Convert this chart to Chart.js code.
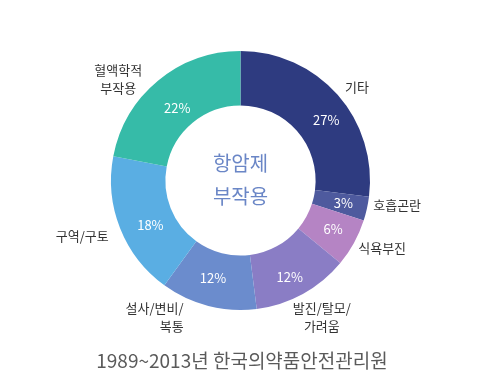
<!DOCTYPE html>
<html>
<head>
<meta charset="utf-8">
<script src="https://cdn.jsdelivr.net/npm/chart.js@4/dist/chart.umd.min.js"></script>
<style>
  html, body { margin: 0; padding: 0; background: #fff; }
  #wrap { width: 487px; height: 391px; position: relative; }
</style>
</head>
<body>
<div id="wrap"><canvas id="chart"></canvas></div>
<script>
var categories = ['기타', '호흡곤란', '식욕부진', '발진/탈모/\n가려움', '설사/변비/\n복통', '구역/구토', '혈액학적\n부작용'];
var shares = [27, 3, 6, 12, 12, 18, 22];
var sliceColors = ['#2e3b80', '#4e5a9e', '#b584c4', '#8a7dc5', '#6b8ccd', '#5aaee3', '#36bba8'];
var centerLines = ['항암제', '부작용'];
var footerText = '1989~2013년 한국의약품안전관리원';

// text nudges (px) from the arc-derived anchor points
var labelNudge = [[-4, 13], [0, -10], [1, -10], [4, -4], [-17, -19], [-9, -4], [-20, 22]];
var labelAlign = ['center', 'center', 'center', 'center', 'right', 'center', 'center'];
var pctNudge = [[9, 7], [3, 0], [3, -1], [0, 7], [-2, -2], [5, 7], [2, 6]];

var fontFamily = '"Noto Sans CJK KR", "Noto Sans", sans-serif';

var labelPlugin = {
    id: 'sliceLabels',
    afterDatasetsDraw: function(chart) {
        var ctx = chart.ctx;
        var meta = chart.getDatasetMeta(0);
        ctx.save();
        ctx.textBaseline = 'middle';
        meta.data.forEach(function(arc, i) {
            var p = arc.getProps(['x', 'y', 'startAngle', 'endAngle', 'innerRadius', 'outerRadius'], true);
            var mid = (p.startAngle + p.endAngle) / 2;
            var rIn = (p.innerRadius + p.outerRadius) / 2;
            ctx.textAlign = 'center';
            ctx.fillStyle = '#ffffff';
            ctx.font = '13px ' + fontFamily;
            ctx.fillText(shares[i] + '%',
                p.x + Math.cos(mid) * rIn + pctNudge[i][0],
                p.y + Math.sin(mid) * rIn + pctNudge[i][1]);

            var rOut = p.outerRadius + 31;
            var lx = p.x + Math.cos(mid) * rOut + labelNudge[i][0];
            var ly = p.y + Math.sin(mid) * rOut + labelNudge[i][1];
            var lines = categories[i].split('\n');
            ctx.textAlign = labelAlign[i];
            ctx.fillStyle = '#333333';
            lines.forEach(function(line, k) {
                ctx.fillText(line, lx, ly + (k - (lines.length - 1) / 2) * 18);
            });
        });

        var c = meta.data[0];
        ctx.textAlign = 'center';
        ctx.fillStyle = '#6a86c6';
        ctx.font = '20px ' + fontFamily;
        ctx.fillText(centerLines[0], c.x, c.y - 17);
        ctx.fillText(centerLines[1], c.x, c.y + 16);

        ctx.fillStyle = '#5a5a5a';
        ctx.font = '19px ' + fontFamily;
        ctx.fillText(footerText, 242, 361);
        ctx.restore();
    }
};

new Chart(document.getElementById('chart'), {
    type: 'doughnut',
    data: {
        labels: categories,
        datasets: [{
            data: shares,
            backgroundColor: sliceColors,
            borderWidth: 0
        }]
    },
    options: {
        responsive: true,
        maintainAspectRatio: false,
        animation: false,
        cutout: '58%',
        layout: { padding: { top: 51, bottom: 81, left: 0, right: 6 } },
        plugins: {
            legend: { display: false },
            tooltip: { enabled: false }
        }
    },
    plugins: [labelPlugin]
});
</script>
</body>
</html>
